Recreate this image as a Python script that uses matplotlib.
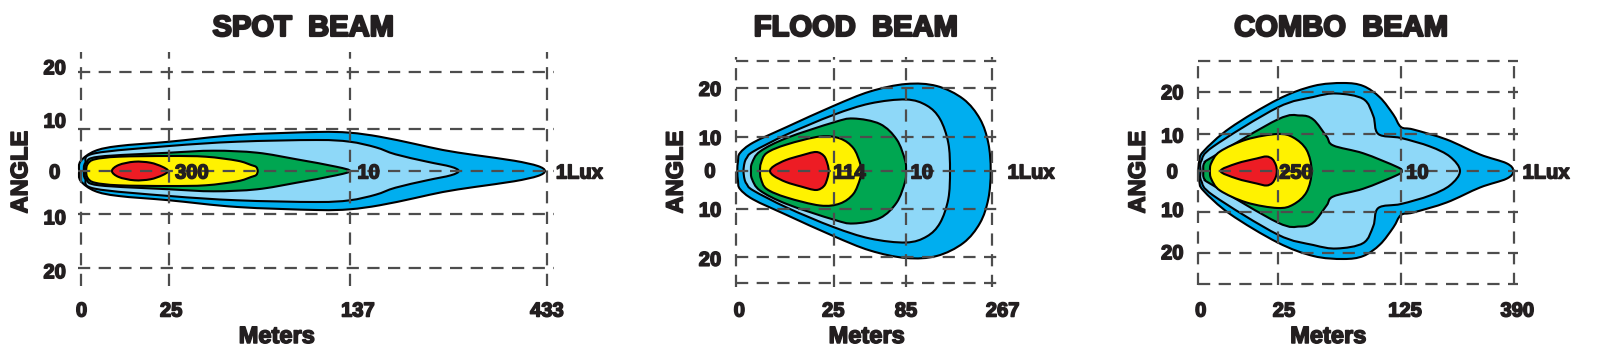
import numpy as np
import matplotlib
matplotlib.use('Agg')
import matplotlib.pyplot as plt
import matplotlib.patheffects as pe
from matplotlib.path import Path
from matplotlib.patches import PathPatch

plt.rcParams['font.family'] = ['Liberation Sans', 'DejaVu Sans']
plt.rcParams['font.weight'] = 'bold'

# ---- data ----
# beam outlines: distance along the beam (px from the 0 line) and half width (px)
spot_titles = 'SPOT  BEAM'
spot_dist_labels = ['0', '25', '137', '433']
spot_lux_labels = ['300', '10', '1Lux']
spot_zones = [
    ([-1.6, 0, 14.2, 38, 88.6, 156.6, 235.7, 268.9, 298.9, 334.5, 362.2, 393.8, 433.4, 457.1, 464.2],
     [0, 10, 20, 25, 29.3, 36, 39, 38.3, 34.3, 27, 21, 16, 10.3, 5, 0]),
    ([3.2, 4.5, 14.2, 88.6, 156.6, 235.7, 268.9, 295, 314.7, 346.4, 370.1, 378],
     [0, 8, 17.7, 25, 29.3, 31, 29.3, 23.7, 16.7, 9.3, 4.3, 0]),
    ([4.3, 5.5, 18.2, 88.6, 132.9, 176.4, 215.9, 255.4, 269.3],
     [0, 8, 14.3, 18.3, 20.3, 18.3, 11.7, 4.3, 0]),
    ([5.5, 7, 14.2, 38, 88.6, 125, 156.6, 170.4, 175.5, 177],
     [0, 7, 11.7, 14.3, 15, 14.3, 10.3, 6, 4, 0]),
    ([31.2, 38, 53.8, 69.6, 81.5, 87.4],
     [0, 6, 9.3, 8.3, 4.3, 0]),
]

flood_title = 'FLOOD  BEAM'
flood_dist_labels = ['0', '25', '85', '267']
flood_lux_labels = ['114', '10', '1Lux']
flood_zones = [
    ([1.3, 2.0, 4, 17.3, 50.7, 97.3, 134, 170, 200.7, 227.3, 244, 252.3, 254.7],
     [0, 10, 18, 28.5, 44, 65, 79.5, 87, 85, 72, 52, 28, 0]),
    ([7.5, 8.5, 10.7, 17.3, 50.7, 97.3, 134, 170, 190.7, 204, 212.3, 214],
     [0, 8, 13, 19.5, 36.5, 56, 67.5, 71.5, 65.5, 52, 28, 0]),
    ([15, 16, 24, 50.7, 97.3, 117.3, 144, 160.7, 169, 170],
     [0, 8, 19.5, 33, 48.5, 52.5, 47, 31.5, 11, 0]),
    ([24, 25, 30.7, 50.7, 84, 104, 117.3, 124, 124.7],
     [0, 8, 18, 26.5, 34.5, 32.5, 23, 8, 0]),
    ([34, 38, 50, 65, 80, 88, 91.5, 92.7],
     [0, 5, 11, 15.5, 19, 15, 7, 0]),
]

combo_title = 'COMBO  BEAM'
combo_dist_labels = ['0', '25', '125', '390']
combo_lux_labels = ['250', '10', '1Lux']
combo_zones = [
    ([0, 1, 5, 31.7, 79.3, 115, 145, 165, 181.7, 195, 202.7, 215, 248.3, 281.7, 308.3, 315],
     [0, 10, 19.5, 43, 71.5, 85, 88, 85, 73.5, 56.5, 44, 41.5, 31.5, 16.5, 7.7, 0]),
    ([2.3, 3, 15, 79.3, 115, 138.3, 165, 175, 180, 202.7, 231.7, 251.7, 261.7],
     [0, 10, 24.5, 63.5, 74, 77.5, 72, 55, 37, 33, 24.5, 14.3, 0]),
    ([5, 6, 15, 79.3, 101.7, 115, 128.3, 135, 165, 198.3, 203.3],
     [0, 8, 14.5, 51.5, 55.5, 51.5, 34.5, 25.5, 17.7, 4.3, 0]),
    ([11.7, 13, 21.7, 48.3, 79.3, 95, 108.3, 113.3],
     [0, 8, 19.5, 31.5, 37, 33.5, 21, 0]),
    ([22.3, 38.3, 58.3, 68, 74, 77.5, 78.5],
     [0, 7.5, 12.5, 14.5, 12, 6, 0]),
]

zone_colors = ['#00AEEF', '#8ED8F8', '#00A651', '#FFF200', '#ED1C24']
angle_labels = ['20', '10', '0', '10', '20']

# ---- layout (figure pixels) ----
W, H = 1597, 354
CY = 171
TOP, BOTTOM = 45, 290
INK = '#231F20'
GRID = '#4D4D4D'

panels = [
    dict(title=spot_titles, zones=spot_zones, dist=spot_dist_labels, lux=spot_lux_labels,
         zx=80.7, right=560, title_x=222.6, meters_x=196.1,
         xtick_x=[0.8, 90.5, 277.2, 466.2], ytick_y=[104.3, 51, 0, -45.7, -99.7],
         grid_x=[0, 88.5, 268.8, 465.8], vspan=(-115, 119),
         grid_y=[99.3, 41.7, 0, -43.3, -96.7], hspan=(-2.4, 472.9),
         lux_x=[111.1, 287.8, 498.6]),
    dict(title=flood_title, zones=flood_zones, dist=flood_dist_labels, lux=flood_lux_labels,
         zx=736, right=1010, title_x=120, meters_x=130.7,
         xtick_x=[3.3, 97.3, 170, 266.7], ytick_y=[82.7, 33.7, 1, -38, -87.3],
         grid_x=[0, 98, 170, 255.7], vspan=(-115.7, 114.3),
         grid_y=[110, 82.7, 33.7, 0, -38, -85.7, -112.3], hspan=(0, 267.3),
         lux_x=[113.3, 185.7, 295]),
    dict(title=combo_title, zones=combo_zones, dist=combo_dist_labels, lux=combo_lux_labels,
         zx=1198.3, right=1525, title_x=143, meters_x=130,
         xtick_x=[2.4, 85.7, 206.7, 319], ytick_y=[79.3, 36, 0.3, -38.3, -80.7],
         grid_x=[0, 79.3, 202.7, 315.7], vspan=(-114, 110),
         grid_y=[110, 78.7, 36.7, 0, -41.3, -82.3, -113.3], hspan=(0, 319.7),
         lux_x=[97.7, 219, 347.7]),
]


def beam_path(dist, half):
    # closed outline: upper edge left->right, lower edge back, smoothed with bezier segments
    pts = [(d, h) for d, h in zip(dist, half)]
    pts += [(d, -h) for d, h in zip(dist[-2:0:-1], half[-2:0:-1])]
    pts = np.array(pts)
    n = len(pts)
    verts = [pts[0]]
    codes = [Path.MOVETO]
    for i in range(n):
        p0, p1, p2, p3 = pts[i - 1], pts[i], pts[(i + 1) % n], pts[(i + 2) % n]
        verts += [p1 + (p2 - p0) / 6, p2 - (p3 - p1) / 6, p2]
        codes += [Path.CURVE4] * 3
    return Path(verts, codes)


heavy = [pe.withStroke(linewidth=1.1, foreground=INK)]
heavy_title = [pe.withStroke(linewidth=1.6, foreground=INK)]

fig = plt.figure(figsize=(W / 100, H / 100), dpi=100)

for p in panels:
    left = p['zx'] - 8
    ax = fig.add_axes([left / W, 1 - BOTTOM / H, (p['right'] - left) / W, (BOTTOM - TOP) / H])
    ax.set_xlim(left - p['zx'], p['right'] - p['zx'])
    ax.set_ylim(CY - BOTTOM, CY - TOP)
    for s in ax.spines.values():
        s.set_visible(False)

    for (dist, half), col in zip(p['zones'], zone_colors):
        ax.add_patch(PathPatch(beam_path(dist, half), facecolor=col, edgecolor='black',
                               lw=1.5, zorder=2))

    ax.vlines(p['grid_x'], p['vspan'][0], p['vspan'][1], colors=GRID, lw=1.6,
              linestyles=(0, (5.5, 3.8)), zorder=3)
    ax.hlines(p['grid_y'], p['hspan'][0], p['hspan'][1], colors=GRID, lw=1.6,
              linestyles=(0, (5.5, 3.8)), zorder=3)

    ax.set_xticks(p['xtick_x'], p['dist'])
    ax.set_yticks(p['ytick_y'], angle_labels)
    ax.tick_params(length=0, labelsize=14.5, labelcolor=INK)
    ax.tick_params(axis='x', pad=8.3)
    ax.tick_params(axis='y', pad=13)
    for t in ax.get_yticklabels():
        t.set_ha('center')
        t.set_path_effects(heavy)
    for t in ax.get_xticklabels():
        t.set_path_effects(heavy)

    for x, lab in zip(p['lux_x'], p['lux']):
        ax.text(x, 0, lab, ha='center', va='center_baseline', fontsize=14.5,
                color=INK, zorder=4, path_effects=heavy)

    ax.set_xlabel('Meters', fontsize=17, fontweight='bold', color=INK, path_effects=heavy)
    ax.xaxis.set_label_coords(p['meters_x'], -163, transform=ax.transData)
    ax.xaxis.label.set_va('center_baseline')
    ax.set_ylabel('ANGLE', fontsize=17, fontweight='bold', color=INK, path_effects=heavy)
    ax.yaxis.set_label_coords(-60, -1, transform=ax.transData)
    ax.yaxis.label.set_va('center')
    ax.text(p['title_x'], 146, p['title'], ha='center', va='center_baseline',
            fontsize=21, color=INK, clip_on=False, path_effects=heavy_title)

fig.savefig('out.png', dpi=100, facecolor='white')
